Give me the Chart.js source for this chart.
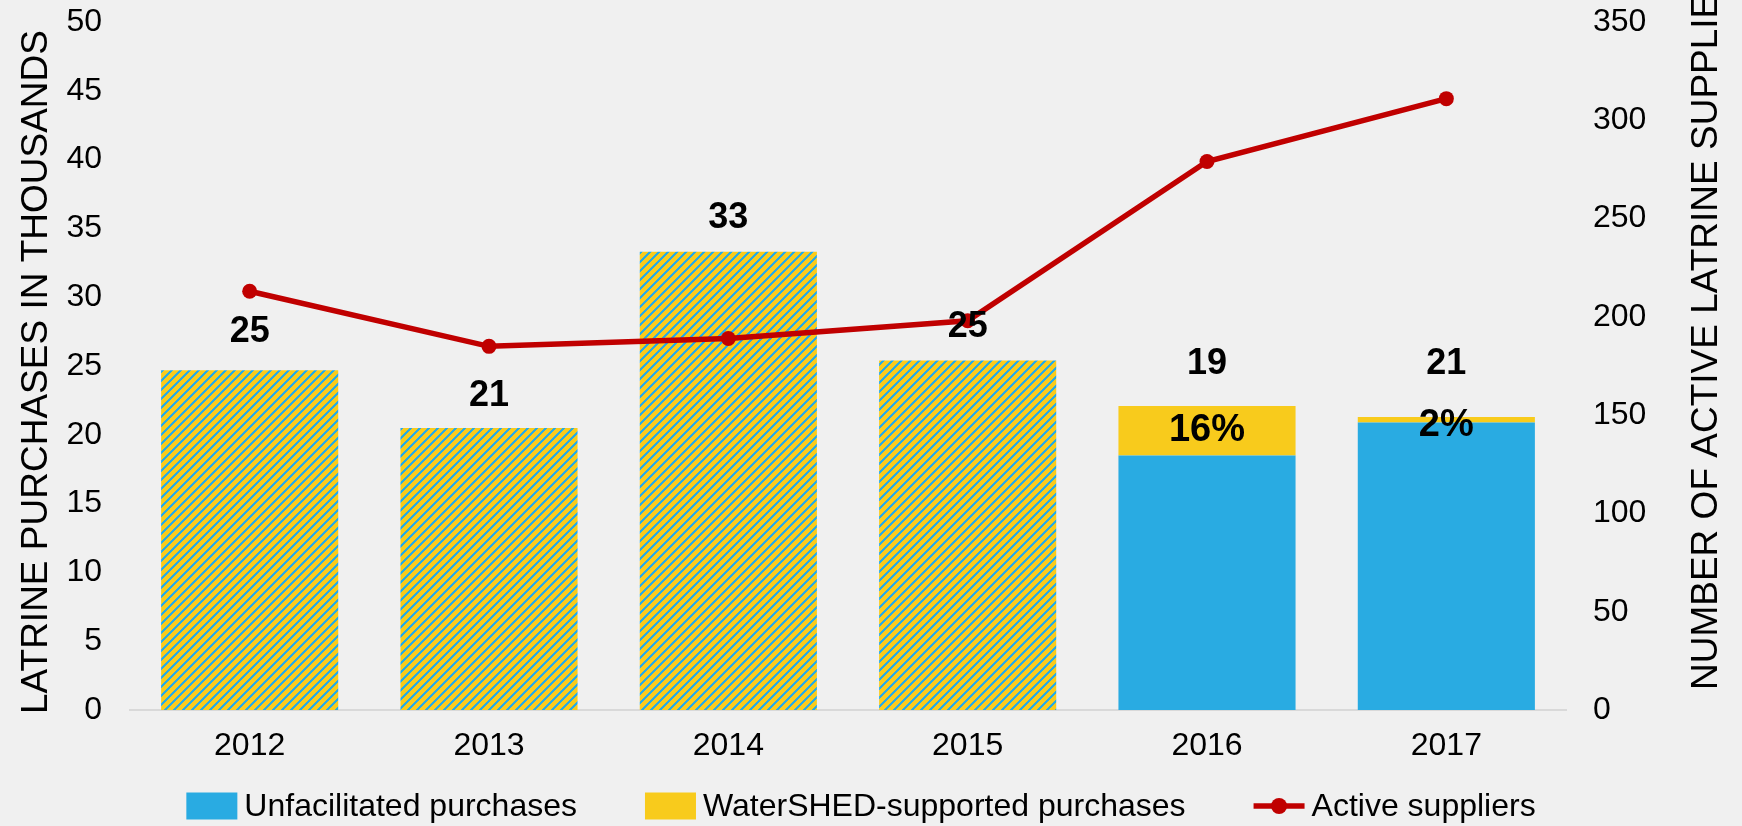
<!DOCTYPE html>
<html><head><meta charset="utf-8">
<script src="https://cdn.jsdelivr.net/npm/chart.js@4.4.1/dist/chart.umd.min.js"></script>
<style>html,body{margin:0;padding:0;background:#f0f0f0;} canvas{display:block;}</style>
</head><body>
<canvas id="c" width="1742" height="826"></canvas>
<script>
// ---- data ----
const years = ['2012', '2013', '2014', '2015', '2016', '2017'];
const splitUnrecorded = [24.7, 20.5, 33.3, 25.4, null, null];   // hatched bars (thousands)
const unfacilitated = [null, null, null, null, 18.5, 20.9];     // thousands
const watershedSupported = [null, null, null, null, 3.6, 0.4];  // thousands
const activeSuppliers = [213, 185, 189, 198, 279, 311];
const totalLabels = ['25', '21', '33', '25', '19', '21'];
const shareLabels = ['', '', '', '', '16%', '2%'];

const BLUE = '#29abe2', YELLOW = '#f8cb1c', RED = '#c00000', BG = '#f0f0f0';
const FONT = '"Liberation Sans", Arial, sans-serif';

const canvas = document.getElementById('c');
const ctx = canvas.getContext('2d');

function makeHatch() {
  const P = 9;
  const t = document.createElement('canvas');
  t.width = P; t.height = P;
  const g = t.getContext('2d');
  g.fillStyle = YELLOW; g.fillRect(0, 0, P, P);
  g.fillStyle = BLUE;
  for (let i = 0; i < P; i++) for (let j = 0; j < P; j++) {
    if (((i + j) % P) < 3) g.fillRect(i, j, 1, 1);
  }
  return ctx.createPattern(t, 'repeat');
}
const hatch = makeHatch();

const bgPlugin = {
  id: 'bg',
  beforeDraw(chart) {
    const c = chart.ctx;
    c.save(); c.fillStyle = BG; c.fillRect(0, 0, chart.width, chart.height); c.restore();
  }
};

const labelPlugin = {
  id: 'valueLabels',
  afterDatasetsDraw(chart, args, opts) {
    const c = chart.ctx;
    const metas = chart.getSortedVisibleDatasetMetas().filter(m => m.type === 'bar');
    c.save();
    c.fillStyle = '#000';
    c.textAlign = 'center';
    c.textBaseline = 'middle';
    years.forEach((_, i) => {
      let top = Infinity, x = null;
      metas.forEach(m => {
        const v = chart.data.datasets[m.index].data[i];
        if (v === null || v === undefined) return;
        const el = m.data[i];
        if (el.y < top) { top = el.y; x = el.x; }
      });
      if (x === null) return;
      c.font = 'bold 36px ' + FONT;
      c.fillText(totalLabels[i], x, top - opts.lift[i]);
      if (shareLabels[i]) {
        const wm = metas.find(m => chart.data.datasets[m.index].label.startsWith('WaterSHED'));
        const el = wm.data[i];
        c.font = 'bold 38px ' + FONT;
        c.fillText(shareLabels[i], el.x, (el.y + el.base) / 2 + opts.shareShift[i]);
      }
    });
    c.restore();
  }
};

const titlePlugin = {
  id: 'axisTitles',
  afterDraw(chart) {
    const c = chart.ctx;
    c.save();
    c.fillStyle = '#000';
    c.font = '37px ' + FONT;
    c.textBaseline = 'middle';
    c.save();
    c.translate(37, 372);
    c.rotate(-Math.PI / 2);
    c.textAlign = 'center';
    c.fillText('LATRINE PURCHASES IN THOUSANDS', 0, 0);
    c.restore();
    c.save();
    c.translate(1707, 690);
    c.rotate(-Math.PI / 2);
    c.textAlign = 'left';
    c.fillText('NUMBER OF ACTIVE LATRINE SUPPLIERS', 0, 0);
    c.restore();
    c.restore();
  }
};

const legendPlugin = {
  id: 'customLegend',
  afterDraw(chart) {
    const c = chart.ctx;
    const ds = chart.data.datasets;
    const items = [ds[1], ds[2], ds[0]];
    const y = 806, boxW = 51, boxH = 27, gap = 7, itemGap = 68;
    c.save();
    c.font = '32px ' + FONT;
    c.textBaseline = 'middle';
    c.textAlign = 'left';
    const widths = items.map(d => boxW + gap + c.measureText(d.label).width);
    const total = widths.reduce((a, b) => a + b, 0) + itemGap * (items.length - 1);
    let x = 861 - total / 2;
    items.forEach((d, k) => {
      if (d.type === 'line') {
        c.strokeStyle = d.borderColor; c.lineWidth = 5.5;
        c.beginPath(); c.moveTo(x, y); c.lineTo(x + boxW, y); c.stroke();
        c.fillStyle = d.borderColor;
        c.beginPath(); c.arc(x + boxW / 2, y, 8, 0, Math.PI * 2); c.fill();
      } else {
        c.fillStyle = d.backgroundColor;
        c.fillRect(x, y - boxH / 2, boxW, boxH);
      }
      c.fillStyle = '#000';
      c.fillText(d.label, x + boxW + gap, y + 1);
      x += widths[k] + itemGap;
    });
    c.restore();
  }
};

const tickFont = { family: FONT, size: 32 };

new Chart(ctx, {
  type: 'bar',
  data: {
    labels: years,
    datasets: [
      {
        type: 'line', label: 'Active suppliers', data: activeSuppliers, yAxisID: 'y1',
        borderColor: RED, backgroundColor: RED, borderWidth: 5.5,
        pointRadius: 7.5, pointBackgroundColor: RED, pointBorderWidth: 0,
        tension: 0, order: 0
      },
      { label: 'Unfacilitated purchases', data: unfacilitated, backgroundColor: BLUE, stack: 's', yAxisID: 'y', order: 1 },
      { label: 'WaterSHED-supported purchases', data: watershedSupported, backgroundColor: YELLOW, stack: 's', yAxisID: 'y', order: 1 },
      { label: 'Purchases (split not recorded)', data: splitUnrecorded, backgroundColor: hatch, stack: 's', yAxisID: 'y', order: 1 }
    ]
  },
  options: {
    responsive: false,
    animation: false,
    layout: { padding: { top: 22, left: 0, right: 0, bottom: 0 } },
    datasets: { bar: { categoryPercentage: 1, barPercentage: 0.74 } },
    plugins: {
      legend: { display: false },
      tooltip: { enabled: false },
      valueLabels: { lift: [38, 32, 34, 33, 42, 53], shareShift: [0, 0, 0, 0, 0, 6] }
    },
    scales: {
      x: {
        stacked: true,
        grid: { display: false, drawTicks: false },
        border: { display: true, color: '#d9d9d9', width: 2 },
        ticks: { font: tickFont, color: '#000', padding: 17 },
        afterFit(s) { s.height = 116; s.paddingLeft = 0; s.paddingRight = 0; }
      },
      y: {
        stacked: true, position: 'left', min: 0, max: 50,
        grid: { display: false, drawTicks: false },
        border: { display: false },
        ticks: { stepSize: 5, font: tickFont, color: '#000', padding: 28 },
        afterFit(s) { s.width = 130; s.paddingTop = 0; s.paddingBottom = 0; }
      },
      y1: {
        position: 'right', min: 0, max: 350,
        grid: { display: false, drawTicks: false },
        border: { display: false },
        ticks: { stepSize: 50, font: tickFont, color: '#000', padding: 27 },
        afterFit(s) { s.width = 176; s.paddingTop = 0; s.paddingBottom = 0; }
      }
    }
  },
  plugins: [bgPlugin, labelPlugin, titlePlugin, legendPlugin]
});
</script>
</body></html>
